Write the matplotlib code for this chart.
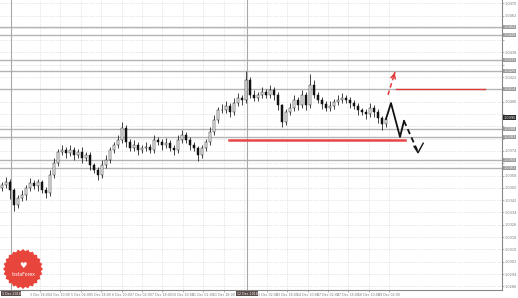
import matplotlib
matplotlib.use("Agg")
import matplotlib.pyplot as plt
import numpy as np
from matplotlib.patches import Polygon

# closing prices, one per bar
closes = [
    1.03519, 1.03538, 1.03486, 1.03389, 1.03434, 1.03454, 1.03499, 1.03532, 1.03512, 1.03538,
    1.03486, 1.03467, 1.03584, 1.03662, 1.03733, 1.03746, 1.03727, 1.03746, 1.03714, 1.03733,
    1.03694, 1.03714, 1.03649, 1.03616, 1.03584, 1.03649, 1.03681, 1.03746, 1.03779, 1.03811,
    1.03889, 1.03798, 1.03759, 1.03779, 1.03746, 1.03759, 1.03766, 1.03746, 1.03811, 1.03798,
    1.03779, 1.03792, 1.03759, 1.03746, 1.03811, 1.03844, 1.03811, 1.03779, 1.03759, 1.03714,
    1.03759, 1.03798, 1.03863, 1.03941, 1.04006, 1.04006, 1.04032, 1.03993, 1.04051, 1.04084,
    1.04071, 1.04201, 1.04104, 1.04084, 1.04104, 1.04123, 1.04104, 1.04136, 1.04104, 1.04038,
    1.03928, 1.03993, 1.04019, 1.04071, 1.04038, 1.04104, 1.04038, 1.04168, 1.04104, 1.04071,
    1.04045, 1.04019, 1.04032, 1.04058, 1.04071, 1.04084, 1.04071, 1.04051, 1.04032, 1.04006,
    1.03993, 1.03980, 1.04019, 1.03993, 1.03954, 1.03915, 1.03948,
]
first_open = 1.03500
# wick lengths in pips
wick_up = [
    2, 3, 2, 1, 2, 3, 2, 3, 2, 2,
    1, 2, 3, 3, 2, 3, 2, 3, 2, 2,
    3, 2, 2, 1, 2, 3, 3, 2, 2, 3,
    4, 2, 2, 3, 2, 2, 3, 2, 3, 2,
    2, 3, 2, 2, 3, 3, 2, 2, 2, 1,
    2, 2, 3, 3, 2, 4, 3, 2, 3, 3,
    2, 6, 2, 3, 2, 3, 2, 3, 2, 2,
    1, 2, 3, 3, 2, 3, 2, 7, 3, 2,
    2, 2, 3, 2, 3, 3, 2, 2, 2, 2,
    1, 2, 3, 2, 2, 1, 2,
]
wick_dn = [
    2, 2, 6, 4, 2, 2, 3, 2, 2, 3,
    2, 3, 2, 2, 2, 2, 3, 2, 3, 2,
    3, 2, 3, 2, 3, 2, 2, 2, 2, 2,
    2, 3, 2, 2, 3, 2, 2, 2, 2, 2,
    3, 2, 2, 3, 2, 2, 2, 3, 2, 4,
    2, 2, 2, 2, 2, 2, 2, 3, 2, 2,
    3, 2, 2, 2, 2, 2, 2, 2, 3, 3,
    3, 2, 2, 2, 3, 2, 3, 2, 2, 2,
    3, 2, 2, 2, 2, 2, 2, 3, 2, 3,
    2, 3, 2, 3, 3, 4, 2,
]

# forecast path drawn by hand
fc_solid_x = [96, 97.25, 99.5, 100.5]
fc_solid_y = [1.03948, 1.04051, 1.03831, 1.03935]
fc_dash_x = [100.5, 104.0]
fc_dash_y = [1.03935, 1.03733]
up_x = [96.5, 98.2]
up_y = [1.04104, 1.04250]

support = (56.75, 100.75, 1.03811)
resistance = (98.5, 120.75, 1.04142)

levels = [1.04545, 1.04493, 1.04331, 1.04260, 1.04142, 1.03882, 1.03831, 1.03681, 1.03629]
vlines = [2.25, 61.25]
current_price = 1.03955

price_ticks = [1.0470 - 0.0008 * k for k in range(24)]
date_labels = ["3 Dec 18:00", "4 Dec 10:00", "5 Dec 02:00", "5 Dec 18:00", "6 Dec 10:00",
               "7 Dec 02:00", "7 Dec 18:00", "10 Dec 10:00", "11 Dec 02:00", "11 Dec 18:00",
               "", "13 Dec 02:00", "13 Dec 18:00", "14 Dec 10:00", "17 Dec 02:00",
               "17 Dec 18:00", "18 Dec 10:00", "19 Dec 02:00"]

opens = [first_open] + closes[:-1]
n = len(closes)
idx = np.arange(n)

fig = plt.figure(figsize=(5.18, 2.98), dpi=100)
ax = fig.add_axes([0.0, 8 / 298, 502 / 518, 290 / 298])
ax.set_xlim(-0.5, 125.0)
ax.set_ylim(1.04721 - 290 * 0.000065, 1.04721)

# grid
ax.set_yticks(price_ticks)
marked = levels + [current_price]
tick_text = ["" if min(abs(p - m) for m in marked) < 0.00035 else f"{p:.4f}" for p in price_ticks]
ax.set_yticklabels(tick_text, fontsize=2.5, color="#555555")
xt = [9.5 + 5.1 * k for k in range(len(date_labels))]
xt[11:] = [x + 0.6 for x in xt[11:]]
ax.set_xticks(xt)
ax.set_xticklabels(date_labels, fontsize=2.3, color="#555555")
ax.yaxis.tick_right()
ax.tick_params(axis="both", length=1.2, width=0.4, pad=0.8, colors="#777777")
ax.grid(True, color="#d0d0d0", linestyle=(0, (1, 1.5)), linewidth=0.5)
ax.set_axisbelow(True)
for side in ["top", "left"]:
    ax.spines[side].set_visible(False)
for side in ["bottom", "right"]:
    ax.spines[side].set_color("#888888")
    ax.spines[side].set_linewidth(0.8)

for lv in levels:
    ax.axhline(lv, color="#b4b4b4", lw=1.0, zorder=1)
for vx in vlines:
    ax.axvline(vx, color="#a8a8a8", lw=0.8, zorder=1)

# candles
highs = [max(o, c) + u * 0.0001 for o, c, u in zip(opens, closes, wick_up)]
lows = [min(o, c) - d * 0.0001 for o, c, d in zip(opens, closes, wick_dn)]
ax.vlines(idx, lows, highs, color="#111111", lw=0.55, zorder=3)
body_lo = np.minimum(opens, closes)
body_h = np.maximum(np.abs(np.array(closes) - np.array(opens)), 0.00002)
fills = ["white" if c > o else "#111111" for o, c in zip(opens, closes)]
ax.bar(idx, body_h, bottom=body_lo, width=0.42, color=fills, edgecolor="#111111",
       linewidth=0.35, zorder=4)

# support / resistance
ax.plot(support[:2], [support[2]] * 2, color="#e8474a", lw=1.8, zorder=5)
ax.plot(resistance[:2], [resistance[2]] * 2, color="#d93a3a", lw=1.0, zorder=5)

# forecast
ax.plot(fc_solid_x, fc_solid_y, color="#111111", lw=1.3, zorder=6)
ax.plot(fc_dash_x, fc_dash_y, color="#111111", lw=1.3, ls=(0, (3, 2)), zorder=6)
ax.plot([103.0, 104.0, 105.3], [1.03770, 1.03728, 1.03790], color="#111111", lw=1.0, zorder=6)
ax.plot(up_x, up_y, color="#e23a3a", lw=1.1, ls=(0, (3, 2)), zorder=6)
ax.annotate("", xy=(up_x[1], up_y[1]), xytext=(up_x[1] - 0.2, up_y[1] - 0.00018),
            arrowprops=dict(arrowstyle="->", color="#e23a3a", lw=1.1, mutation_scale=8),
            zorder=6)

# price labels on the axis
for lv in levels:
    ax.text(1.003, lv, f"{lv:.4f}", transform=ax.get_yaxis_transform(), fontsize=2.5,
            color="white", va="center", ha="left",
            bbox=dict(boxstyle="square,pad=0.12", fc="#9a9a9a", ec="none"), clip_on=False)
ax.text(1.003, current_price, f"{current_price:.4f}", transform=ax.get_yaxis_transform(),
        fontsize=2.5, color="white", va="center", ha="left",
        bbox=dict(boxstyle="square,pad=0.12", fc="#2a2a2a", ec="none"), clip_on=False)
for vx, txt in zip(vlines, ["3 Dec 2018", "12 Dec 2018"]):
    ax.text(vx, -0.006, txt, transform=ax.get_xaxis_transform(), fontsize=2.3, color="white",
            va="top", ha="center",
            bbox=dict(boxstyle="square,pad=0.12", fc="#5a4a4a", ec="none"), clip_on=False)

# logo badge
lax = fig.add_axes([2 / 518, 8 / 298, 42 / 518, 42 / 298])
lax.set_xlim(-1.05, 1.05)
lax.set_ylim(-1.05, 1.05)
lax.axis("off")
ang = np.linspace(0, 2 * np.pi, 49)[:-1]
rad = np.where(np.arange(48) % 2 == 0, 1.0, 0.9)
lax.add_patch(Polygon(np.c_[rad * np.cos(ang), rad * np.sin(ang)], closed=True,
                      fc="#e8453c", ec="none"))
lax.text(0, 0.2, "\u2665", fontsize=6, color="white", ha="center", va="center")
lax.text(0, -0.28, "InstaForex", fontsize=3.3, color="white", ha="center", va="center")

fig.savefig("out.png", dpi=100)
